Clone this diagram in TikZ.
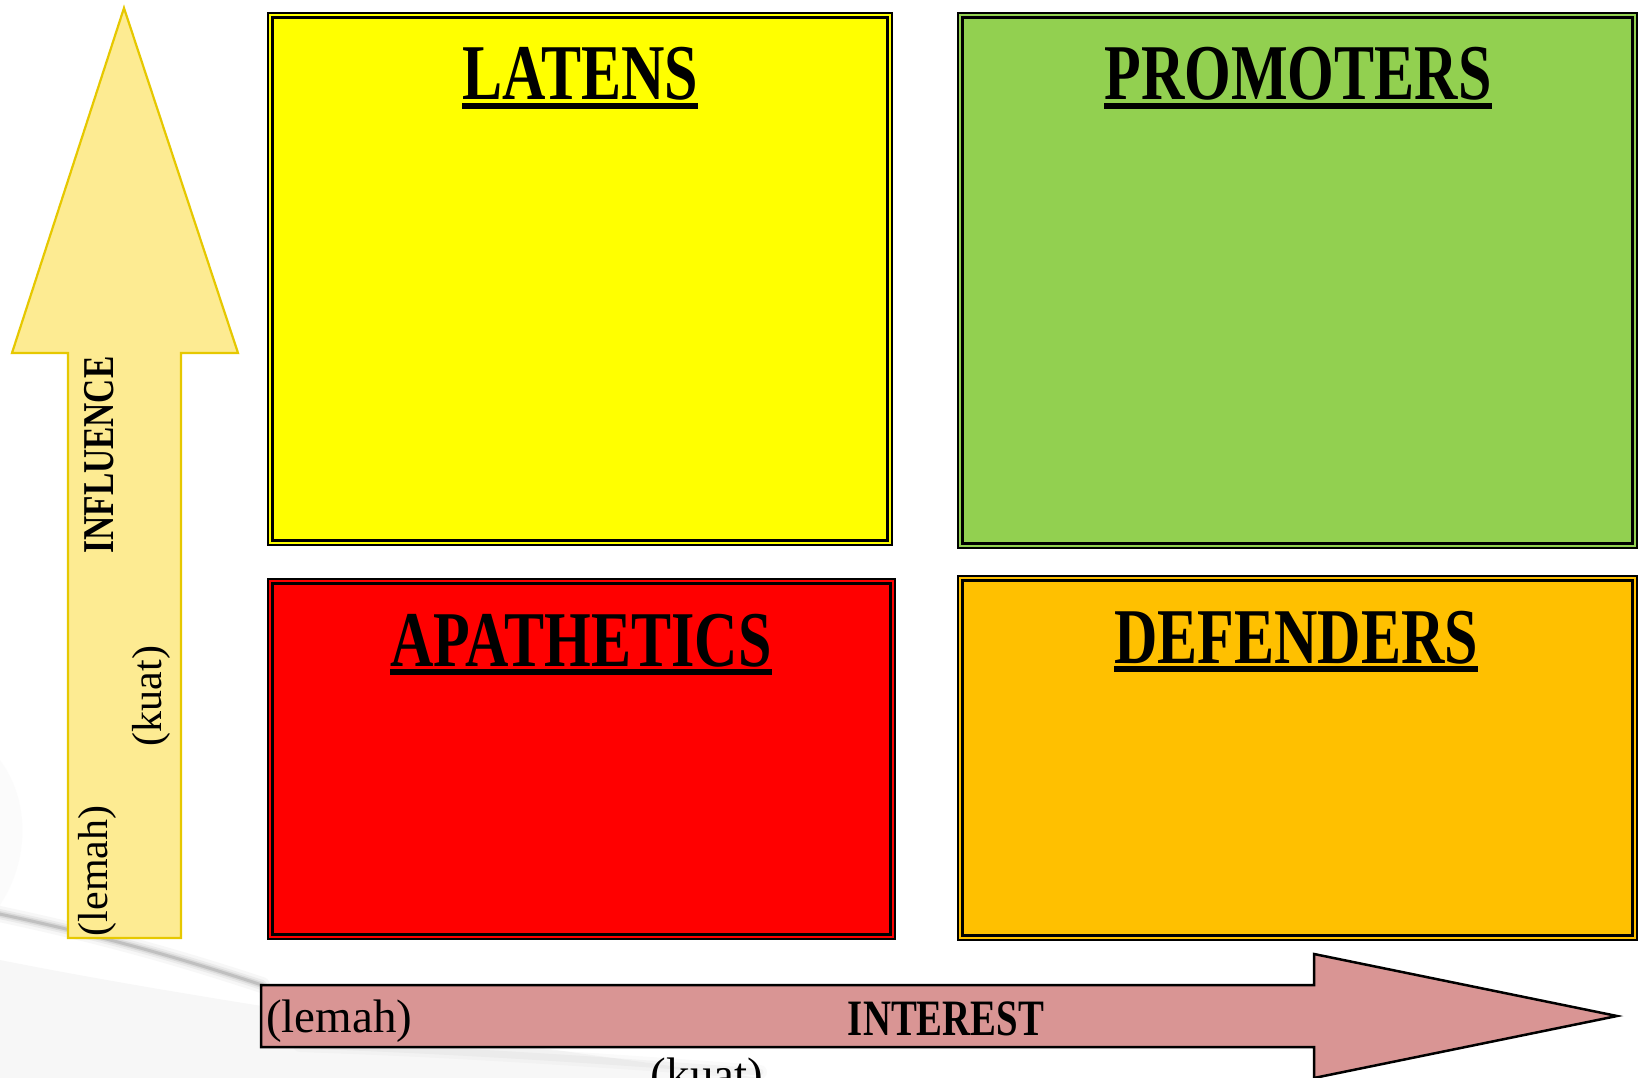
\documentclass[tikz,border=0pt]{standalone}
\usepackage{fontspec}
\setmainfont{Liberation Serif}
\newfontfamily\capsfont{Liberation Serif}[FakeStretch=0.76]
\usetikzlibrary{calc}
\definecolor{latenscol}{HTML}{FFFF00}
\definecolor{promcol}{HTML}{92D050}
\definecolor{apatcol}{HTML}{FF0000}
\definecolor{defcol}{HTML}{FFC000}
\definecolor{inflfill}{HTML}{FDEB92}
\definecolor{infldraw}{HTML}{E6C800}
\definecolor{intfill}{HTML}{D99594}
\begin{document}
\begin{tikzpicture}[x=1pt,y=-1pt,
  quad/.style={draw=black, line width=2.5pt, double distance=2.2pt, inner sep=0pt, outer sep=0pt},
  quadtitle/.style={inner sep=0pt, anchor=base, font=\capsfont\bfseries\fontsize{79}{80}\selectfont},
  axistitle/.style={inner sep=0pt, anchor=base, font=\capsfont\bfseries\fontsize{#1}{#1}\selectfont},
  axisnote/.style={inner sep=0pt, font=\fontsize{#1}{#1}\selectfont},
  ulbar/.style={fill=black}]
% page and soft background
\useasboundingbox (0,0) rectangle (1638,1078);
\fill[white] (0,0) rectangle (1638,1078);
\fill[gray!10, opacity=0.6] (0,960) .. controls (150,990) and (400,1030) .. (760,1078) -- (0,1078) -- cycle;
\fill[gray!5, opacity=0.5] (0,760) .. controls (30,800) and (30,860) .. (0,905) -- cycle;
\foreach \w/\o in {16/0.05, 10/0.08, 6/0.12, 3/0.22}
  \draw[line width=\w pt, gray!80!black, opacity=\o, line cap=round]
    (-10,912) .. controls (100,935) and (180,958) .. (262,985);
\foreach \w/\o in {14/0.04, 7/0.06}
  \draw[line width=\w pt, gray, opacity=\o, line cap=round]
    (300,1045) .. controls (450,1050) and (600,1060) .. (760,1072);

% four quadrants
\node[quad, double=latenscol, fill=latenscol, minimum width=619.5pt, minimum height=527.5pt] (latens) at (580,279) {};
\node[quad, double=promcol, fill=promcol, minimum width=674.5pt, minimum height=530.5pt] (promoters) at (1297.5,280.5) {};
\node[quad, double=apatcol, fill=apatcol, minimum width=622.5pt, minimum height=355.5pt] (apathetics) at (581.5,759) {};
\node[quad, double=defcol, fill=defcol, minimum width=674.5pt, minimum height=359.5pt] (defenders) at (1297.5,758) {};

\node[quadtitle] (latT) at (580,100) {LATENS};
\node[quadtitle] (promT) at (1298,100) {PROMOTERS};
\node[quadtitle] (apatT) at (581,666) {APATHETICS};
\node[quadtitle] (defT) at (1296,663) {DEFENDERS};
\foreach \t in {latT,promT,apatT,defT}
  \fill[ulbar] ($(\t.base west)+(0,3)$) rectangle ($(\t.base east)+(0,9)$);

% influence axis (upward block arrow)
\filldraw[fill=inflfill, draw=infldraw, line width=2.2pt, line join=miter]
  (124,8) -- (238,353) -- (181,353) -- (181,938) -- (68,938) -- (68,353) -- (12,353) -- cycle;
\node[axistitle=44, rotate=90] (influence) at (113,455) {INFLUENCE};
\node[axisnote=42, rotate=90, anchor=base] (inflHigh) at (161,696) {(kuat)};
\node[axisnote=42, rotate=90, anchor=base] (inflLow) at (107,871) {(lemah)};

% interest axis (rightward block arrow)
\filldraw[fill=intfill, draw=black, line width=2.5pt, line join=miter]
  (261,985) -- (1314,985) -- (1314,954) -- (1617,1016) -- (1314,1078) -- (1314,1047) -- (261,1047) -- cycle;
\node[axistitle=51] (interest) at (946,1035) {INTEREST};
\node[axisnote=47, anchor=base west] (intLow) at (266,1032) {(lemah)};
\node[axisnote=47, anchor=base] (intHigh) at (707,1090) {(kuat)};
\end{tikzpicture}
\end{document}
